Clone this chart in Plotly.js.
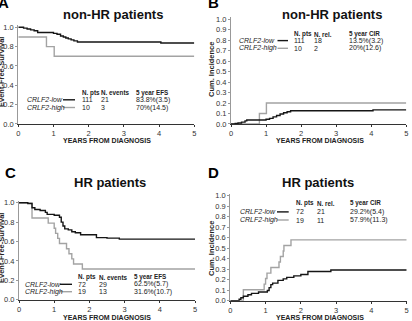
<!DOCTYPE html>
<html><head><meta charset="utf-8">
<script src="https://cdn.plot.ly/plotly-3.0.1.min.js"></script>
<style>html,body{margin:0;padding:0;background:#fff;overflow:hidden}#c{width:412px;height:321px}</style>
</head><body><div id="c"></div>
<script>
// ---- data ----
const groups = ["CRLF2-low", "CRLF2-high"];
const panelLetters = ["A", "B", "C", "D"];
const panelTitles = ["non-HR patients", "non-HR patients", "HR patients", "HR patients"];
const yTitles = ["Event-Free-Survival", "Cum. Incidence", "Event-Free-Survival", "Cum. Incidence"];
const xTitle = "YEARS FROM DIAGNOSIS";
const xTicks = [0, 1, 2, 3, 4, 5];
const yTicksEFS = [0, 0.2, 0.4, 0.6, 0.8, 1.0];
const yTicksCIR = [0, 0.1, 0.2, 0.3, 0.4, 0.5, 0.6, 0.7, 0.8, 0.9, 1.0];

// Panel A: non-HR EFS
const aLowT  = [0, 0.15, 0.25, 0.35, 0.45, 0.55, 1.0, 1.1, 1.2, 1.28, 1.35, 1.42, 1.5, 1.58, 1.68, 4.05, 5];
const aLowV  = [1.0, 0.991, 0.982, 0.973, 0.964, 0.946, 0.937, 0.928, 0.91, 0.9, 0.89, 0.88, 0.87, 0.86, 0.848, 0.838, 0.838];
const aHighT = [0, 0.8, 1.02, 5];
const aHighV = [0.9, 0.8, 0.7, 0.7];
// Panel B: non-HR CIR
const bLowT  = [0, 0.12, 0.2, 0.3, 0.4, 0.45, 1.0, 1.1, 1.2, 1.3, 1.4, 1.5, 1.6, 1.7, 4.05, 5];
const bLowV  = [0, 0.005, 0.009, 0.018, 0.03, 0.038, 0.045, 0.054, 0.068, 0.081, 0.095, 0.108, 0.117, 0.126, 0.135, 0.135];
const bHighT = [0, 0.81, 1.01, 5];
const bHighV = [0, 0.1, 0.2, 0.2];
// Panel C: HR EFS
const cLowT  = [0, 0.25, 0.37, 0.45, 0.6, 0.75, 0.8, 1.0, 1.15, 1.2, 1.25, 1.3, 1.4, 1.5, 1.6, 1.75, 2.2, 2.5, 2.85, 5];
const cLowV  = [1.0, 0.99, 0.948, 0.93, 0.92, 0.9, 0.88, 0.87, 0.85, 0.8, 0.76, 0.73, 0.72, 0.70, 0.69, 0.67, 0.64, 0.635, 0.625, 0.625];
const cHighT = [0, 0.37, 0.83, 1.0, 1.04, 1.1, 1.15, 1.35, 1.42, 1.5, 1.55, 1.8, 5];
const cHighV = [1.0, 0.842, 0.789, 0.737, 0.684, 0.632, 0.579, 0.526, 0.474, 0.421, 0.368, 0.316, 0.316];
// Panel D: HR CIR
const dLowT  = [0, 0.25, 0.3, 0.37, 0.5, 0.6, 0.8, 1.05, 1.1, 1.15, 1.2, 1.35, 1.5, 1.6, 1.8, 2.0, 2.2, 2.85, 5];
const dLowV  = [0, 0.014, 0.028, 0.042, 0.056, 0.07, 0.083, 0.097, 0.125, 0.153, 0.167, 0.194, 0.208, 0.222, 0.236, 0.25, 0.278, 0.292, 0.292];
const dHighT = [0, 0.37, 0.96, 1.0, 1.04, 1.15, 1.38, 1.42, 1.5, 1.52, 1.72, 5];
const dHighV = [0, 0.105, 0.158, 0.211, 0.263, 0.316, 0.368, 0.421, 0.474, 0.526, 0.579, 0.579];

// legend tables
const tableHeadersEFS = ["N. pts", "N. events", "5 year EFS"];
const tableHeadersCIR = ["N. pts", "N. rel.", "5 year CIR"];
const aRows = [["111", "21", "83.8%(3.5)"], ["10", "3", "70%(14.5)"]];
const bRows = [["111", "18", "13.5%(3.2)"], ["10", "2", "20%(12.6)"]];
const cRows = [["72", "29", "62.5%(5.7)"], ["19", "13", "31.6%(10.7)"]];
const dRows = [["72", "21", "29.2%(5.4)"], ["19", "11", "57.9%(11.3)"]];

// ---- layout helpers ----
const W = 412, H = 321;
const fx = p => p / W, fy = p => 1 - p / H;
const FONT = "Liberation Sans, Arial, sans-serif";
const DARK = "#151515", GRAY = "#a3a3a3";

const panels = [
  {x0: 18.3, x5: 194.3, y0: 124, y1: 27.3, lowT: aLowT, lowV: aLowV, highT: aHighT, highV: aHighV, yt: yTicksEFS,
   title: [113, 14.3], letter: [4, 2.5], ytitle: [1, 72], xt: [107, 140], heads: tableHeadersEFS, rows: aRows,
   tbl: {hy: 93, r1: 99.8, r2: 107.5, name: 26, line: [63, 75], c: [81, 99.5, 135]}},
  {x0: 231, x5: 406.3, y0: 124, y1: 19.3, lowT: bLowT, lowV: bLowV, highT: bHighT, highV: bHighV, yt: yTicksCIR,
   title: [332, 14.3], letter: [213, 2.5], ytitle: [211, 70], xt: [320, 140], heads: tableHeadersCIR, rows: bRows,
   tbl: {hy: 34, r1: 40.6, r2: 48.3, name: 238, line: [277.5, 288], c: [293, 312.5, 347.5]}},
  {x0: 19, x5: 195, y0: 299.7, y1: 202.7, lowT: cLowT, lowV: cLowV, highT: cHighT, highV: cHighV, yt: yTicksEFS,
   title: [110, 183], letter: [10.5, 172.5], ytitle: [1, 248], xt: [107, 317], heads: tableHeadersEFS, rows: cRows,
   tbl: {hy: 277, r1: 284.3, r2: 291.7, name: 24.3, line: [60, 72], c: [77.3, 97.5, 133.3]}},
  {x0: 230.3, x5: 406.7, y0: 300.7, y1: 195.7, lowT: dLowT, lowV: dLowV, highT: dHighT, highV: dHighV, yt: yTicksCIR,
   title: [318, 182.7], letter: [213, 172.5], ytitle: [211, 249], xt: [320, 317], heads: tableHeadersCIR, rows: dRows,
   tbl: {hy: 203, r1: 211.9, r2: 220, name: 239.3, line: [277, 288.7], c: [295.3, 316, 349.3]}}
];

const traces = [];
const layout = {
  width: W, height: H, margin: {l: 0, r: 0, t: 0, b: 0},
  paper_bgcolor: "#fff", plot_bgcolor: "rgba(0,0,0,0)", showlegend: false,
  font: {family: FONT, size: 8, color: "#333"},
  annotations: [], shapes: []
};
const ann = (x, y, text, opts) => layout.annotations.push(Object.assign({
  xref: "paper", yref: "paper", x: fx(x), y: fy(y), text: text, showarrow: false,
  xanchor: "left", yanchor: "middle", borderpad: 0, font: {family: FONT, size: 7, color: "#222"}
}, opts || {}));

panels.forEach((p, i) => {
  const n = i + 1;
  const xa = "xaxis" + (i === 0 ? "" : n), ya = "yaxis" + (i === 0 ? "" : n);
  const xr = "x" + (i === 0 ? "" : n), yr = "y" + (i === 0 ? "" : n);
  const yTop = 1.02;
  const topPx = p.y0 - yTop * (p.y0 - p.y1);
  layout[xa] = {
    domain: [fx(p.x0), fx(p.x5)], anchor: yr, range: [0, 5], tickvals: xTicks, ticktext: xTicks.map(String),
    showline: true, linecolor: "#333", linewidth: 1, ticks: "outside", ticklen: 2, tickcolor: "#333",
    showgrid: false, zeroline: false, tickfont: {family: FONT, size: 7.5, color: "#333"}, fixedrange: true
  };
  layout[ya] = {
    domain: [fy(p.y0), fy(topPx)], anchor: xr, range: [0, yTop], tickvals: p.yt,
    ticktext: p.yt.map(v => v.toFixed(1)),
    showline: true, linecolor: "#999", linewidth: 1, ticks: "outside", ticklen: 2, tickcolor: "#999",
    showgrid: false, zeroline: false, tickfont: {family: FONT, size: 7.5, color: "#333"}, fixedrange: true
  };
  traces.push({x: p.highT, y: p.highV, xaxis: xr, yaxis: yr, type: "scatter", mode: "lines",
    line: {shape: "hv", color: GRAY, width: 1.4}, name: groups[1], hoverinfo: "skip"});
  traces.push({x: p.lowT, y: p.lowV, xaxis: xr, yaxis: yr, type: "scatter", mode: "lines",
    line: {shape: "hv", color: DARK, width: 1.4}, name: groups[0], hoverinfo: "skip"});

  ann(p.title[0], p.title[1], "<b>" + panelTitles[i] + "</b>", {xanchor: "center", font: {family: FONT, size: 13, color: "#111"}});
  ann(p.letter[0], p.letter[1], "<b>" + panelLetters[i] + "</b>", {xanchor: "center", font: {family: FONT, size: 15, color: "#000"}});
  ann(p.ytitle[0], p.ytitle[1], "<b>" + yTitles[i] + "</b>", {xanchor: "center", textangle: -90, font: {family: FONT, size: 7.5, color: "#222"}});
  ann(p.xt[0], p.xt[1], "<b>" + xTitle + "</b>", {xanchor: "center", font: {family: FONT, size: 7, color: "#222"}});

  const t = p.tbl;
  p.heads.forEach((h, k) => ann(t.c[k], t.hy, "<b>" + h + "</b>", {font: {family: FONT, size: 6.3, color: "#222"}}));
  [t.r1, t.r2].forEach((ry, r) => {
    ann(t.name, ry, "<i>" + groups[r] + "</i>");
    p.rows[r].forEach((v, k) => ann(t.c[k], ry, v));
    layout.shapes.push({type: "line", xref: "paper", yref: "paper",
      x0: fx(t.line[0]), x1: fx(t.line[1]), y0: fy(ry), y1: fy(ry),
      line: {color: r === 0 ? DARK : GRAY, width: 1.4}});
  });
});

Plotly.newPlot("c", traces, layout, {staticPlot: true, displayModeBar: false});
</script></body></html>
